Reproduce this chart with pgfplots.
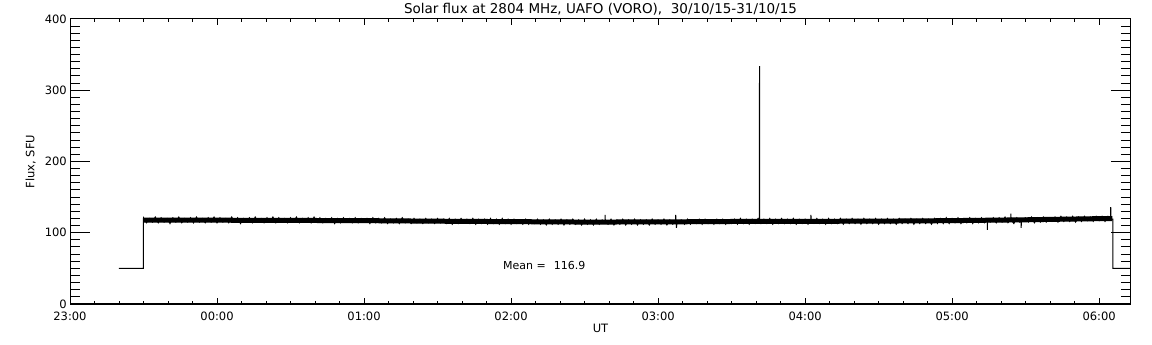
\documentclass[border=0pt]{standalone}
\usepackage{pgfplots}
\pgfplotsset{compat=1.18}
\usepackage{fontspec}
\setmainfont{DejaVu Sans}
\begin{document}
\begin{tikzpicture}
\path[use as bounding box] (0,0) rectangle (1152bp,345bp);
% axis with y ticks, data, labels
\begin{axis}[
  at={(70bp,41bp)}, anchor=south west,
  width=1061bp, height=285bp, scale only axis,
  xmin=0, xmax=7.2167, ymin=0, ymax=400,
  axis line style={line width=1bp},
  xtick=\empty,
  ytick={0,100,200,300,400},
  minor y tick num=9,
  tick pos=both, tick align=inside,
  major tick length=20bp, minor tick length=10bp,
  tick style={line width=1bp, black},
  /pgf/number format/assume math mode=true,
  yticklabel style={anchor=east, inner sep=0pt, xshift=-3bp, font=\fontsize{11.5bp}{13bp}\selectfont},
  ylabel={Flux, SFU},
  every axis y label/.style={at={(axis description cs:-0.037,0.5)}, rotate=90, anchor=center, font=\fontsize{11.5bp}{13bp}\selectfont},
  xlabel={UT},
  every axis x label/.style={at={(axis description cs:0.5,-0.0842)}, anchor=center, font=\fontsize{11.5bp}{13bp}\selectfont},
  title={Solar flux at 2804 MHz, UAFO (VORO),\ \ 30/10/15-31/10/15},
  every axis title/.style={at={(axis description cs:0.5,1.035)}, anchor=center, font=\fontsize{13.5bp}{15bp}\selectfont},
  clip=true,
]
% dense core of the noisy band
\addplot[black, line width=5bp, line cap=butt] coordinates {
(0.50,117.8)(1.00,117.6)(1.50,117.3)(2.00,117.0)(2.50,116.2)(3.00,115.6)(3.50,115.0)(4.00,115.2)(4.50,115.8)(5.00,116.0)(5.50,116.3)(6.00,117.0)(6.50,118.2)(7.00,119.8)(7.09,120.0)
};
\addplot[black, line width=1bp, line join=miter] coordinates {
(0.333,50)(0.4985,50)(0.4985,118)
(0.50,121)(0.52,114)(0.54,120)(0.56,115)(0.58,122)(0.60,114)(0.62,121)(0.64,115)(0.66,120)(0.68,113)
(0.70,121)(0.72,115)(0.74,122)(0.76,114)(0.78,120)(0.80,115)(0.82,121)(0.84,114)(0.86,122)(0.88,115)
(0.90,120)(0.92,114)(0.94,121)(0.96,115)(0.98,122)(1.00,114)(1.02,121)(1.04,115)(1.06,120)(1.08,114)
(1.10,122)(1.12,115)(1.14,121)(1.16,113)(1.18,120)(1.20,115)(1.22,121)(1.24,114)(1.26,122)(1.28,115)
(1.30,120)(1.32,114)(1.34,121)(1.36,115)(1.38,122)(1.40,114)(1.42,121)(1.44,115)(1.46,120)(1.48,114)
(1.50,121)(1.52,115)(1.54,122)(1.56,114)(1.58,120)(1.60,115)(1.62,121)(1.64,114)(1.66,122)(1.68,115)
(1.70,121)(1.72,114)(1.74,120)(1.76,115)(1.78,121)(1.80,113)(1.82,120)(1.84,114)(1.86,121)(1.88,115)
(1.90,120)(1.92,114)(1.94,121)(1.96,114)(1.98,120)(2.00,115)(2.02,120)(2.04,113)(2.06,121)(2.08,114)
(2.10,120)(2.12,114)(2.14,121)(2.16,113)(2.18,119)(2.20,114)(2.22,120)(2.24,113)(2.26,121)(2.28,114)
(2.30,119)(2.32,113)(2.34,120)(2.36,114)(2.38,119)(2.40,113)(2.42,120)(2.44,114)(2.46,119)(2.48,113)
(2.50,120)(2.52,114)(2.54,119)(2.56,113)(2.58,120)(2.60,112)(2.62,119)(2.64,113)(2.66,120)(2.68,114)
(2.70,119)(2.72,113)(2.74,120)(2.76,112)(2.78,119)(2.80,113)(2.82,119)(2.84,112)(2.86,120)(2.88,113)
(2.90,119)(2.92,112)(2.94,120)(2.96,113)(2.98,119)(3.00,112)(3.02,119)(3.04,113)(3.06,118)(3.08,112)
(3.10,119)(3.12,112)(3.14,118)(3.16,113)(3.18,119)(3.20,112)(3.22,118)(3.24,111)(3.26,119)(3.28,112)
(3.30,118)(3.32,112)(3.34,119)(3.36,111)(3.38,118)(3.40,112)(3.42,119)(3.44,112)(3.46,118)(3.48,111)
(3.50,119)(3.52,112)(3.54,118)(3.56,111)(3.58,119)(3.60,112)(3.62,118)(3.639,116)(3.64,125)(3.641,116)(3.66,112)(3.68,119)
(3.70,111)(3.72,118)(3.74,112)(3.76,119)(3.78,111)(3.80,118)(3.82,112)(3.84,119)(3.86,111)(3.88,118)
(3.90,112)(3.92,118)(3.94,111)(3.96,119)(3.98,112)(4.00,118)(4.02,112)(4.04,119)(4.06,111)(4.08,118)
(4.10,112)(4.119,116)(4.12,125)(4.125,107)(4.13,116)(4.16,118)(4.18,112)(4.20,119)(4.22,112)(4.24,118)(4.26,113)(4.28,119)
(4.30,112)(4.32,119)(4.34,113)(4.36,118)(4.38,112)(4.40,119)(4.42,113)(4.44,119)(4.46,112)(4.48,118)
(4.50,113)(4.52,119)(4.54,112)(4.56,120)(4.58,113)(4.60,119)(4.62,112)(4.64,119)(4.66,113)(4.68,120)
(4.689,117)(4.69,334)(4.691,116)
(4.70,113)(4.72,119)(4.74,113)(4.76,120)(4.78,112)(4.80,119)(4.82,113)(4.84,120)(4.86,113)(4.88,119)
(4.90,113)(4.92,120)(4.94,112)(4.96,119)(4.98,113)(5.00,119)(5.02,112)(5.039,117)(5.04,125)(5.041,116)(5.06,113)(5.08,120)
(5.10,113)(5.12,119)(5.14,112)(5.16,120)(5.18,113)(5.20,119)(5.22,113)(5.24,120)(5.26,112)(5.28,119)
(5.30,113)(5.32,120)(5.34,113)(5.36,119)(5.38,112)(5.40,120)(5.42,113)(5.44,119)(5.46,113)(5.48,120)
(5.50,112)(5.52,119)(5.54,113)(5.56,120)(5.58,113)(5.60,119)(5.62,112)(5.64,120)(5.66,113)(5.68,119)
(5.70,113)(5.72,120)(5.74,112)(5.76,119)(5.78,113)(5.80,120)(5.82,113)(5.84,119)(5.86,112)(5.88,120)
(5.90,113)(5.92,120)(5.94,113)(5.96,121)(5.98,113)(6.00,120)(6.02,114)(6.04,121)(6.06,113)(6.08,120)
(6.10,114)(6.12,121)(6.14,113)(6.16,120)(6.18,114)(6.20,121)(6.22,114)(6.239,117)(6.24,104)(6.241,117)(6.26,115)(6.28,121)
(6.30,114)(6.32,121)(6.34,115)(6.36,122)(6.38,114)(6.399,118)(6.40,127)(6.401,118)(6.42,113)(6.44,121)(6.46,115)(6.469,118)(6.47,107)(6.471,118)
(6.50,121)(6.52,115)(6.54,122)(6.56,114)(6.58,121)(6.60,115)(6.62,122)(6.64,115)(6.66,121)(6.68,116)
(6.70,122)(6.72,115)(6.74,123)(6.76,116)(6.78,122)(6.80,116)(6.82,123)(6.84,115)(6.86,122)(6.88,116)
(6.90,123)(6.92,117)(6.94,122)(6.96,116)(6.98,123)(7.00,117)(7.02,123)(7.04,116)(7.06,123)(7.078,119)
(7.079,136)(7.08,119)(7.094,119)(7.094,50)(7.2167,50)
};
\node[anchor=west, inner sep=0pt, font=\fontsize{11bp}{13bp}\selectfont] at (axis cs:2.945,54.7) {Mean =\hspace{8bp}116.9};
\end{axis}
% axis with x ticks only
\begin{axis}[
  at={(70bp,41bp)}, anchor=south west,
  width=1061bp, height=285bp, scale only axis,
  xmin=0, xmax=7.2167, ymin=0, ymax=400,
  axis line style={line width=1bp},
  ytick=\empty,
  xtick={0,1,2,3,4,5,6,7},
  xticklabels={23:00,00:00,01:00,02:00,03:00,04:00,05:00,06:00},
  minor x tick num=5,
  tick pos=both, tick align=inside,
  major tick length=6bp, minor tick length=3bp,
  tick style={line width=1bp, black},
  xticklabel style={anchor=center, yshift=-12bp, font=\fontsize{11.5bp}{13bp}\selectfont},
]
\end{axis}
\end{tikzpicture}
\end{document}
